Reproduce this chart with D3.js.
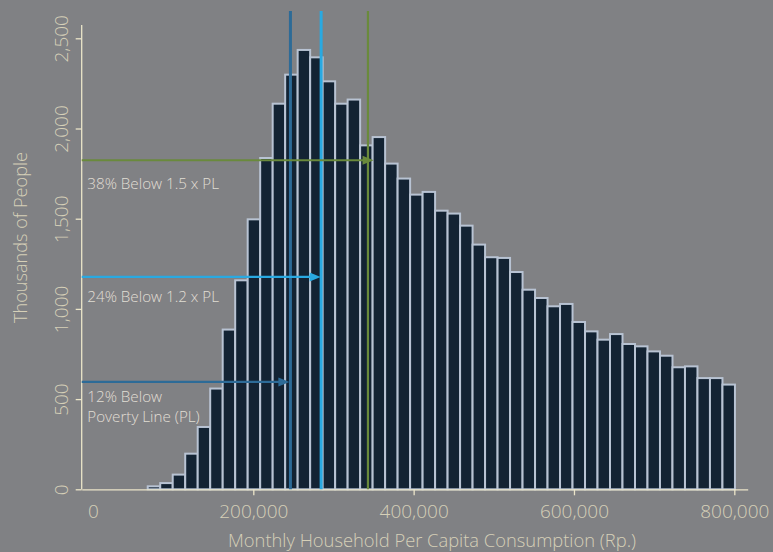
<!DOCTYPE html>
<html><head><meta charset="utf-8">
<script src="https://cdn.jsdelivr.net/npm/d3@7"></script>
<style>html,body{margin:0;padding:0;background:#808184;} svg{display:block;}</style>
</head><body>
<svg id="chart" width="773" height="552"></svg>
<script>
// ---------- data ----------
const binStart = 68300;      // lower edge of first bin (Rp.)
const binWidth = 15585;      // width of each bin (Rp.)
const counts = [22, 40, 87, 203, 351, 564, 891, 1164, 1502,
  1842, 2143, 2304, 2441, 2400, 2267, 2143, 2166, 1912, 1958, 1811, 1728, 1639, 1654, 1550, 1534, 1467, 1362, 1292,
  1288, 1210, 1112, 1066, 1020, 1033, 933, 881, 835, 866, 811, 798, 770, 746, 682, 687, 622, 622, 586];
const xTicks = [0, 200000, 400000, 600000, 800000];
const yTicks = [0, 500, 1000, 1500, 2000, 2500];
const lineValues = [246300, 284600, 343000];      // PL, 1.2 x PL, 1.5 x PL (Rp.)
const arrowLevels = [595, 1177, 1824];            // thousands of people
const arrowTips = [245000, 284000, 350000];       // Rp.
const labelLines = [["12% Below", "Poverty Line (PL)"], ["24% Below 1.2 x PL"], ["38% Below 1.5 x PL"]];
const xTitle = "Monthly Household Per Capita Consumption (Rp.)";
const yTitle = "Thousands of People";

// ---------- styles ----------
const lineColors = ["#2d6b97", "#29a9e1", "#6a8a3c"];
const lineWidths = [3, 3, 2.2];
const labelDy = [20.4, 25, 28.3];
const axisColor = "#ebe5c9";
const tickTextColor = "#d6d0b8";
const noteColor = "#e0ded4";
const font = "'Open Sans', 'Noto Sans', sans-serif";

const svg = d3.select("#chart");
const x = d3.scaleLinear().domain([-14070, 816700]).range([81.7, 747.7]);
const y = d3.scaleLinear().domain([0, 2500]).range([489.3, 38.3]);
const yTop = 25;

// bars
const bins = counts.map((c, i) => ({x0: binStart + i * binWidth, x1: binStart + (i + 1) * binWidth, v: c}));
svg.append("g").selectAll("rect").data(bins).join("rect")
  .attr("x", d => x(d.x0))
  .attr("width", d => x(d.x1) - x(d.x0))
  .attr("y", d => y(d.v) + 1)
  .attr("height", d => y(0) - y(d.v) - 1)
  .attr("fill", "#132333")
  .attr("stroke", "#b8c3d3")
  .attr("stroke-width", 2);

// y axis
const yAxis = svg.append("g").attr("transform", `translate(${x.range()[0]},0)`)
  .call(d3.axisLeft(y).tickValues(yTicks).tickSize(6).tickSizeOuter(0).tickFormat(d3.format(",")));
yAxis.select(".domain").attr("d", `M0,${yTop}V${y(0)}`).attr("stroke", axisColor).attr("stroke-width", 1.3);
yAxis.selectAll(".tick line").attr("stroke", axisColor).attr("stroke-width", 1.3);
yAxis.selectAll(".tick text")
  .attr("transform", "rotate(-90)").attr("x", 0).attr("y", -13.7).attr("dy", 0)
  .attr("text-anchor", "middle").attr("fill", tickTextColor)
  .style("font-family", font).style("font-size", "19px").style("font-weight", 300);

// x axis
const xAxis = svg.append("g").attr("transform", `translate(0,${y(0)})`)
  .call(d3.axisBottom(x).tickValues(xTicks).tickSize(6).tickSizeOuter(0).tickFormat(d3.format(",")));
xAxis.select(".domain").attr("stroke", axisColor).attr("stroke-width", 1.3);
xAxis.selectAll(".tick line").attr("stroke", axisColor).attr("stroke-width", 1.3)
  .attr("y2", d => d === 0 ? 0 : 6);
xAxis.selectAll(".tick text").attr("y", 28.4).attr("dy", 0).attr("fill", tickTextColor)
  .style("font-family", font).style("font-size", "19px").style("font-weight", 300);

// axis titles
svg.append("text").attr("x", 432).attr("y", 547.3).attr("text-anchor", "middle")
  .attr("fill", tickTextColor).style("font-family", font).style("font-size", "19px").style("font-weight", 300)
  .attr("textLength", 408).attr("lengthAdjust", "spacingAndGlyphs")
  .text(xTitle);
svg.append("text").attr("transform", "translate(27,237.5) rotate(-90)").attr("text-anchor", "middle")
  .attr("fill", tickTextColor).style("font-family", font).style("font-size", "19px").style("font-weight", 300)
  .attr("textLength", 171).attr("lengthAdjust", "spacingAndGlyphs")
  .text(yTitle);

// vertical reference lines
svg.append("g").selectAll("line").data(lineValues).join("line")
  .attr("x1", d => x(d)).attr("x2", d => x(d))
  .attr("y1", 11).attr("y2", y(0))
  .attr("stroke", (d, i) => lineColors[i]).attr("stroke-width", (d, i) => lineWidths[i]);

// horizontal arrows and notes
const arrows = svg.append("g");
arrowLevels.forEach((lv, i) => {
  const yy = y(lv), tip = x(arrowTips[i]);
  arrows.append("line").attr("x1", x.range()[0]).attr("x2", tip - 6).attr("y1", yy).attr("y2", yy)
    .attr("stroke", lineColors[i]).attr("stroke-width", 2.2);
  arrows.append("path").attr("d", `M${tip},${yy}L${tip - 11},${yy - 4.5}L${tip - 11},${yy + 4.5}Z`)
    .attr("fill", lineColors[i]);
  labelLines[i].forEach((s, k) => {
    svg.append("text").attr("x", 87.3).attr("y", yy + labelDy[i] + k * 19.8)
      .attr("fill", noteColor).style("font-family", font).style("font-size", "15.2px").style("font-weight", 300)
      .text(s);
  });
});
</script>
</body></html>
